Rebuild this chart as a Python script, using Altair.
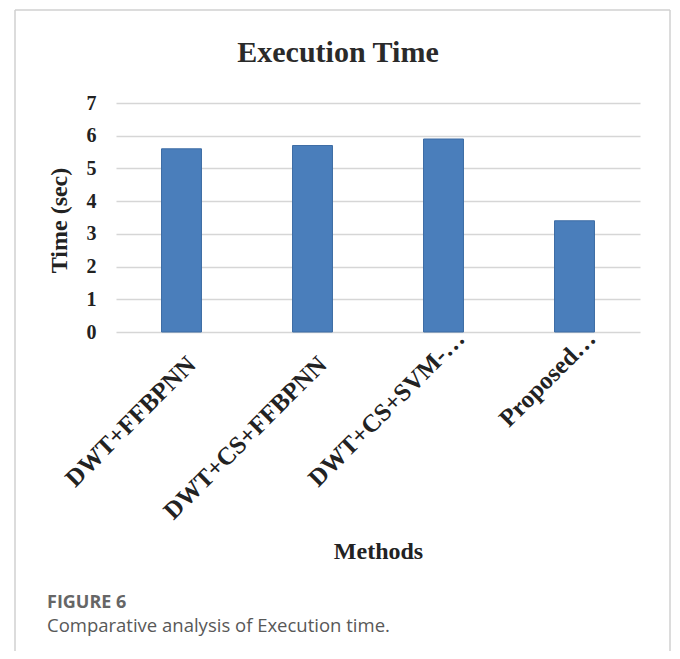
import altair as alt
import pandas as pd

# ---- data ----
methods = ["DWT+FFBPNN", "DWT+CS+FFBPNN", "DWT+CS+SVM-…", "Proposed…"]
times = [5.6, 5.7, 5.9, 3.4]
y_ticks = [0, 1, 2, 3, 4, 5, 6, 7]

chart_title = "Execution Time"
x_title = "Methods"
y_title = "Time (sec)"
fig_label = "FIGURE 6"
fig_caption = "Comparative analysis of Execution time."

df = pd.DataFrame({"method": methods, "time": times})
one = pd.DataFrame({"k": [0]})

W, H = 524, 229
serif = "Liberation Serif"
ink = "#222222"

bars = alt.Chart(df).mark_bar(color="#4a7ebb", stroke="#3d6ca4", strokeWidth=1).encode(
    x=alt.X(
        "method:N",
        sort=methods,
        scale=alt.Scale(paddingInner=0.695, paddingOuter=0.3475),
        axis=alt.Axis(
            title=x_title,
            labelAngle=-45,
            labelAlign="right",
            labelBaseline="middle",
            labelFont=serif,
            labelFontSize=25,
            labelFontWeight="bold",
            labelColor=ink,
            labelLimit=500,
            labelOverlap=False,
            labelBound=False,
            labelPadding={"expr": "indexof(datum.label, '…') >= 0 ? 2 : 28"},
            labelOffset={"expr": "indexof(datum.label, '…') >= 0 ? 17 : 10"},
            ticks=False,
            domain=False,
            grid=False,
            titleFont=serif,
            titleFontSize=24,
            titleFontWeight="bold",
            titleColor=ink,
            titleY=226,
            titleBaseline="alphabetic",
        ),
    ),
    y=alt.Y(
        "time:Q",
        scale=alt.Scale(domain=[0, 7], nice=False),
        axis=alt.Axis(
            values=y_ticks,
            title=y_title,
            grid=True,
            gridColor="#d6d6d6",
            gridWidth=1.4,
            domain=False,
            ticks=False,
            labelPadding=20,
            labelFont=serif,
            labelFontSize=20,
            labelFontWeight="bold",
            labelColor=ink,
            titleFont=serif,
            titleFontSize=24,
            titleFontWeight="bold",
            titleColor=ink,
            titleAngle=-90,
            titleX=-57,
            titleY=117,
            titleBaseline="middle",
        ),
    ),
)

frame_color = "#d0d0d0"
frame_left = alt.Chart(one).mark_rule(color=frame_color, strokeWidth=1.5).encode(
    x=alt.value(-101), y=alt.value(-93), y2=alt.value(548))
frame_top = alt.Chart(one).mark_rule(color=frame_color, strokeWidth=1.5).encode(
    x=alt.value(-101), x2=alt.value(554), y=alt.value(-93))
frame_right = alt.Chart(one).mark_rule(color=frame_color, strokeWidth=1.5).encode(
    x=alt.value(554), y=alt.value(-93), y2=alt.value(548))

title_df = pd.DataFrame({"t": [chart_title]})
label_df = pd.DataFrame({"t": [fig_label]})
caption_df = pd.DataFrame({"t": [fig_caption]})

title_text = alt.Chart(title_df).mark_text(
    align="center", baseline="alphabetic", font=serif, fontSize=30,
    fontWeight="bold", color="#2a2a2a").encode(
    x=alt.value(222), y=alt.value(-41), text="t:N")
fig_text = alt.Chart(label_df).mark_text(
    align="left", baseline="alphabetic", font="Open Sans", fontSize=18,
    fontWeight="bold", color="#666666").encode(
    x=alt.value(-69), y=alt.value(505), text="t:N")
cap_text = alt.Chart(caption_df).mark_text(
    align="left", baseline="alphabetic", font="Open Sans", fontSize=18.5,
    color="#585858").encode(
    x=alt.value(-69), y=alt.value(529), text="t:N")

chart = alt.layer(frame_left, frame_top, frame_right, title_text, bars, fig_text, cap_text).properties(
    width=W,
    height=H,
    autosize=alt.AutoSizeParams(type="none"),
    padding={"left": 108, "top": 95, "right": 32, "bottom": 319},
).configure_view(strokeWidth=0)

chart.save("out.html", embed_options={"renderer": "svg", "actions": False})
